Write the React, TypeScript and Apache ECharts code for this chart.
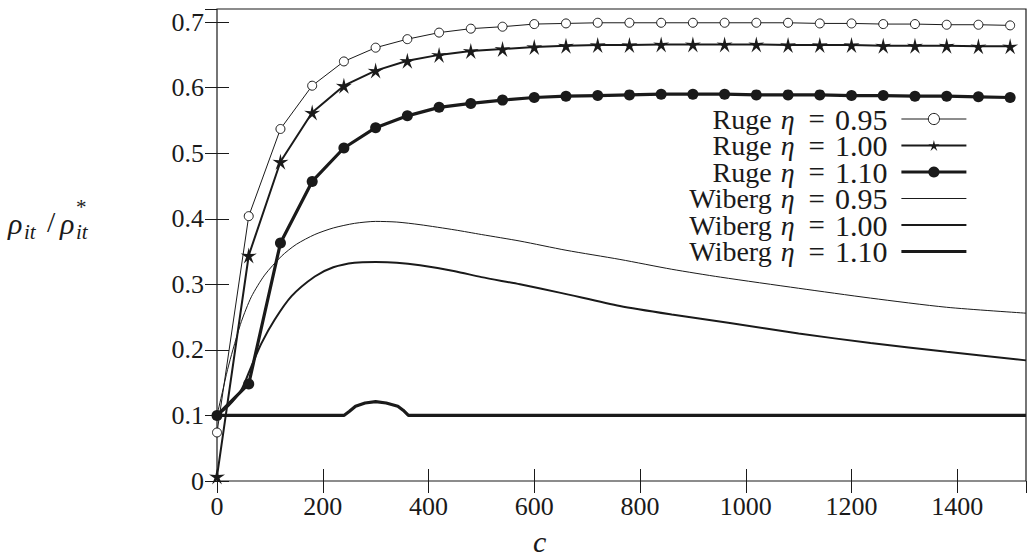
import React, { useEffect, useRef } from 'react';
import * as echarts from 'echarts';

// ---------- data ----------
const rugeC = [0, 60, 120, 180, 240, 300, 360, 420, 480, 540, 600, 660, 720, 780, 840, 900, 960, 1020, 1080, 1140, 1200, 1260, 1320, 1380, 1440, 1500];
const ruge095 = [0.074, 0.404, 0.537, 0.603, 0.640, 0.661, 0.674, 0.684, 0.690, 0.693, 0.697, 0.698, 0.699, 0.699, 0.699, 0.699, 0.699, 0.699, 0.699, 0.698, 0.698, 0.697, 0.697, 0.696, 0.696, 0.695];
const ruge100 = [0.007, 0.344, 0.487, 0.562, 0.603, 0.626, 0.641, 0.650, 0.656, 0.659, 0.662, 0.664, 0.665, 0.665, 0.666, 0.666, 0.666, 0.666, 0.665, 0.665, 0.665, 0.664, 0.664, 0.664, 0.663, 0.663];
const ruge110 = [0.100, 0.148, 0.363, 0.457, 0.508, 0.539, 0.557, 0.570, 0.576, 0.581, 0.585, 0.587, 0.588, 0.589, 0.590, 0.590, 0.590, 0.589, 0.589, 0.589, 0.588, 0.588, 0.587, 0.587, 0.586, 0.585];

const wiberg095C = [0, 10, 20, 30, 46, 65, 90, 122, 150, 185, 220, 260, 300, 340, 384, 450, 500, 573, 660, 762, 860, 952, 1100, 1236, 1380, 1530];
const wiberg095 = [0.1, 0.135, 0.17, 0.2, 0.243, 0.281, 0.314, 0.343, 0.361, 0.376, 0.386, 0.393, 0.396, 0.395, 0.391, 0.383, 0.376, 0.366, 0.352, 0.338, 0.323, 0.311, 0.294, 0.279, 0.265, 0.256];

const wiberg100C = [0, 21, 46, 65, 84, 109, 141, 185, 220, 260, 300, 340, 384, 450, 500, 573, 650, 762, 860, 970, 1100, 1236, 1380, 1530];
const wiberg100 = [0.1, 0.114, 0.139, 0.175, 0.21, 0.246, 0.282, 0.312, 0.326, 0.333, 0.334, 0.333, 0.329, 0.32, 0.311, 0.3, 0.287, 0.267, 0.254, 0.241, 0.225, 0.2105, 0.197, 0.184];

const wiberg110C = [0, 240, 250, 262, 280, 300, 320, 342, 352, 362, 1530];
const wiberg110 = [0.1, 0.1, 0.106, 0.114, 0.119, 0.121, 0.119, 0.114, 0.108, 0.1, 0.1];

const xTickLabels = ['0', '200', '400', '600', '800', '1000', '1200', '1400'];
const yTickLabels = ['0', '0.1', '0.2', '0.3', '0.4', '0.5', '0.6', '0.7'];

const seriesNames = [
  'Ruge η = 0.95',
  'Ruge η = 1.00',
  'Ruge η = 1.10',
  'Wiberg η = 0.95',
  'Wiberg η = 1.00',
  'Wiberg η = 1.10',
];
const lineWidths = [1, 2, 3.2, 1, 2, 3.2];

const FONT = 'Liberation Serif';
const INK = '#1a1a1a';

function starPath(): string {
  const pts: string[] = [];
  for (let i = 0; i < 10; i++) {
    const r = i % 2 === 0 ? 10 : 3.2;
    const a = -Math.PI / 2 + (i * Math.PI) / 5;
    pts.push(`${(r * Math.cos(a)).toFixed(3)},${(r * Math.sin(a)).toFixed(3)}`);
  }
  return 'path://M' + pts.join('L') + 'Z';
}

const zip = (xs: number[], ys: number[]) => xs.map((x, i) => [x, ys[i]]);

export default function App() {
  const ref = useRef<HTMLDivElement>(null);
  useEffect(() => {
    if (!ref.current) return;
    const chart = echarts.init(ref.current, undefined, { renderer: 'svg' });
    const axisCommon = {
      type: 'value' as const,
      splitLine: { show: false },
      axisLine: { show: false },
      axisTick: { show: true, inside: true, length: 12, lineStyle: { color: INK, width: 1 } },
    };
    const lh = 25;
    const option: any = {
      animation: false,
      backgroundColor: '#ffffff',
      grid: { left: 217, right: 2, top: 9, bottom: 77, show: true, borderColor: INK, borderWidth: 1.2, backgroundColor: 'transparent' },
      xAxis: [
        {
          ...axisCommon,
          min: 0,
          max: 1530,
          interval: 200,
          position: 'bottom',
          axisLabel: {
            show: true,
            margin: 12,
            fontFamily: FONT,
            fontSize: 26,
            color: INK,
            showMaxLabel: false,
            formatter: (v: number) => (xTickLabels.includes(String(v)) ? String(v) : ''),
          },
        },
        { ...axisCommon, min: 0, max: 1530, interval: 200, position: 'top', axisLabel: { show: false } },
      ],
      yAxis: [
        {
          ...axisCommon,
          min: 0,
          max: 0.72,
          interval: 0.1,
          position: 'left',
          axisLabel: {
            show: true,
            margin: 13,
            fontFamily: FONT,
            fontSize: 26,
            color: INK,
            showMaxLabel: false,
            formatter: (v: number) => {
              const s = String(Math.round(v * 10) / 10);
              return yTickLabels.includes(s) ? s : '';
            },
          },
        },
        { ...axisCommon, min: 0, max: 0.72, interval: 0.1, position: 'right', axisLabel: { show: false } },
      ],
      legend: {
        orient: 'vertical',
        right: 60,
        top: 104,
        padding: 0,
        align: 'right',
        itemWidth: 65,
        itemHeight: 14,
        itemGap: -3.5,
        selectedMode: false,
        data: seriesNames.map((name, i) => ({
          name,
          lineStyle: { width: lineWidths[i] },
          itemStyle: i === 0 ? { borderWidth: 1 } : {},
        })),
        formatter: (name: string) => {
          const [a, b] = name.split('η');
          const num = b.replace('=', '').trim();
          return `{r|${a}}{i|η}{e|=}{n|${num}}{g| }`;
        },
        textStyle: {
          fontFamily: FONT,
          fontSize: 28,
          color: INK,
          lineHeight: lh,
          rich: {
            r: { fontFamily: FONT, fontSize: 28, color: INK, lineHeight: lh },
            i: { fontFamily: FONT, fontSize: 28, fontStyle: 'italic', color: INK, lineHeight: lh, padding: [0, 3, 0, 2] },
            e: { fontFamily: FONT, fontSize: 29, color: INK, lineHeight: lh, padding: [0, 10, 0, 11] },
            n: { fontFamily: FONT, fontSize: 30, color: INK, lineHeight: lh },
            g: { width: 9, fontSize: 28, lineHeight: lh },
          },
        },
      },
      graphic: [
        {
          type: 'group',
          left: 8,
          top: 196,
          children: [
            { type: 'text', x: 0, y: 12, style: { text: 'ρ', font: `italic 30px ${FONT}`, fill: INK } },
            { type: 'text', x: 16, y: 25, style: { text: 'it', font: `italic 21px ${FONT}`, fill: INK } },
            { type: 'text', x: 39, y: 10, style: { text: '/', font: `30px ${FONT}`, fill: INK } },
            { type: 'text', x: 52, y: 12, style: { text: 'ρ', font: `italic 30px ${FONT}`, fill: INK } },
            { type: 'text', x: 68, y: 0, style: { text: '*', font: `21px ${FONT}`, fill: INK } },
            { type: 'text', x: 68, y: 25, style: { text: 'it', font: `italic 21px ${FONT}`, fill: INK } },
          ],
        },
        {
          type: 'text',
          left: 533,
          top: 526,
          style: { text: 'c', font: `italic 30px ${FONT}`, fill: INK },
        },
      ],
      series: [
        {
          name: seriesNames[0],
          type: 'line',
          data: zip(rugeC, ruge095),
          symbol: 'circle',
          symbolSize: 9,
          lineStyle: { color: INK, width: lineWidths[0] },
          itemStyle: { color: '#ffffff', borderColor: INK, borderWidth: 1 },
          z: 5,
        },
        {
          name: seriesNames[1],
          type: 'line',
          data: zip(rugeC, ruge100),
          symbol: starPath(),
          symbolSize: 16,
          lineStyle: { color: INK, width: lineWidths[1] },
          itemStyle: { color: INK },
          z: 5,
        },
        {
          name: seriesNames[2],
          type: 'line',
          data: zip(rugeC, ruge110),
          symbol: 'circle',
          symbolSize: 11,
          lineStyle: { color: INK, width: lineWidths[2] },
          itemStyle: { color: INK },
          z: 5,
        },
        {
          name: seriesNames[3],
          type: 'line',
          data: zip(wiberg095C, wiberg095),
          symbol: 'circle',
          showSymbol: false,
          smooth: 0.25,
          lineStyle: { color: INK, width: lineWidths[3] },
          itemStyle: { color: 'rgba(0,0,0,0)' },
          z: 3,
        },
        {
          name: seriesNames[4],
          type: 'line',
          data: zip(wiberg100C, wiberg100),
          symbol: 'circle',
          showSymbol: false,
          smooth: 0.25,
          lineStyle: { color: INK, width: lineWidths[4] },
          itemStyle: { color: 'rgba(0,0,0,0)' },
          z: 3,
        },
        {
          name: seriesNames[5],
          type: 'line',
          data: zip(wiberg110C, wiberg110),
          symbol: 'circle',
          showSymbol: false,
          lineStyle: { color: INK, width: lineWidths[5] },
          itemStyle: { color: 'rgba(0,0,0,0)' },
          z: 3,
        },
      ],
    };
    chart.setOption(option);
    return () => chart.dispose();
  }, []);
  return (
    <div
      ref={ref}
      style={{ position: 'fixed', left: 0, top: 0, width: 1028, height: 558, background: '#fff' }}
    />
  );
}
